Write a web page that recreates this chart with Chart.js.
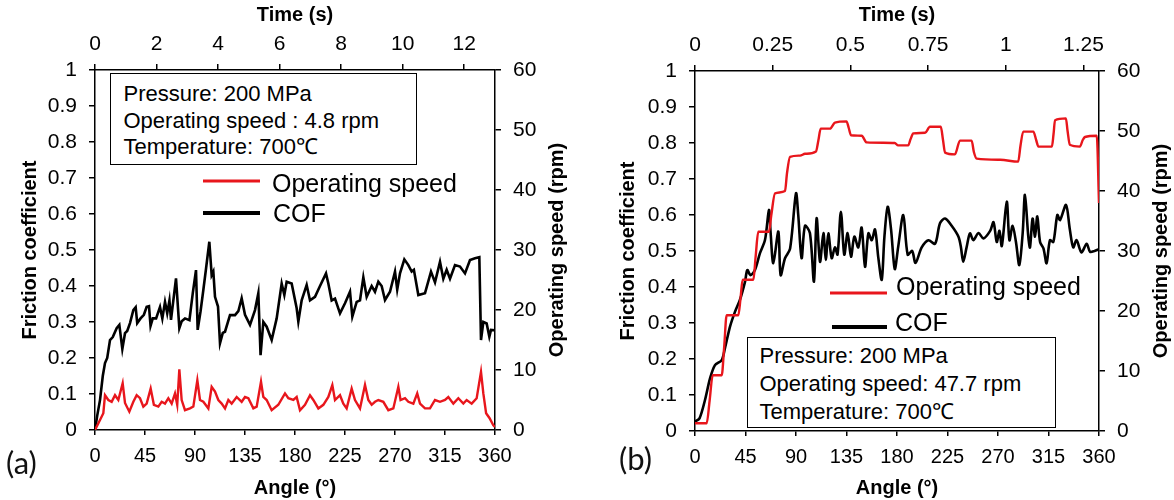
<!DOCTYPE html>
<html><head><meta charset="utf-8">
<script src="https://cdn.jsdelivr.net/npm/chart.js@4.4.0/dist/chart.umd.min.js"></script>
<style>
html,body{margin:0;padding:0;background:#fff;}
#wrap{position:relative;width:1174px;height:500px;overflow:hidden;font-family:"Liberation Sans",Arial,sans-serif;}
canvas{position:absolute;top:0;}
#ca{left:0}
#cb{left:587px}
.box{position:absolute;border:1.5px solid #000;box-sizing:border-box;font-size:22px;color:#000;background:#fff;white-space:nowrap;}
.panel{position:absolute;font-family:Lato,"Open Sans",sans-serif;font-size:31px;line-height:36px;color:#111;}
</style></head>
<body><div id="wrap">
<canvas id="ca" width="587" height="500"></canvas>
<canvas id="cb" width="587" height="500"></canvas>
<div class="box" style="left:110px;top:73px;width:307px;height:92px;padding:7px 0 0 12.5px;line-height:26.7px;">Pressure: 200 MPa<br>Operating speed : 4.8 rpm<br>Temperature: 700℃</div>
<div class="box" style="left:747px;top:337px;width:309px;height:91px;padding:4px 0 0 11.5px;line-height:28px;">Pressure: 200 MPa<br>Operating speed: 47.7 rpm<br>Temperature: 700℃</div>
<div class="panel" style="left:6px;top:444px;">(a)</div>
<div class="panel" style="left:619px;top:440px;">(b)</div>
</div>
<script>
// ---------- DATA ----------
const seriesNames = ["Operating speed", "COF"];
const angleTicks = [0, 45, 90, 135, 180, 225, 270, 315, 360];

// Panel (a): 4.8 rpm
const aTimeMax = 13;
const aAngleCOF = [0,2,4.5,7,9,11,13.5,16,19.5,21.9,24.6,27,29,31.5,34.5,36.6,38,41,44,46.5,48.6,50,52,55,58.5,60.6,63,65,67,68.4,72.9,75.9,78,81,85,88,90.9,92.4,95,97.5,100,102.9,105,106.5,108,110.7,112.5,115,117,121.5,126,129,132,135,139.5,144,147,149,151.5,154.5,159,163.5,168,170.4,172.5,177,181.5,183,186,190.5,193.5,198,202.5,207.9,210,213,216,220.5,225,229.5,231.6,235.5,238.5,241.5,244.5,249,252,255,258,261,265.5,270,272,274.5,278.4,282,285,287,291,297,302.4,306,310.5,313.5,316.5,319.5,324,328.5,333,337.5,342,345.9,347.4,349.5,352.5,354.9,356.4,360];
const aCOF = [0,0.04,0.083,0.15,0.186,0.2,0.25,0.258,0.283,0.292,0.225,0.269,0.275,0.297,0.333,0.341,0.297,0.31,0.32,0.342,0.344,0.289,0.31,0.31,0.342,0.31,0.356,0.324,0.36,0.306,0.421,0.283,0.302,0.31,0.305,0.38,0.444,0.278,0.33,0.389,0.45,0.523,0.43,0.44,0.37,0.343,0.241,0.27,0.273,0.319,0.319,0.33,0.366,0.32,0.292,0.333,0.38,0.208,0.30,0.287,0.25,0.31,0.407,0.375,0.412,0.407,0.338,0.301,0.36,0.403,0.36,0.37,0.40,0.435,0.407,0.36,0.365,0.324,0.352,0.384,0.315,0.356,0.36,0.424,0.37,0.40,0.384,0.412,0.40,0.361,0.384,0.44,0.39,0.435,0.474,0.458,0.44,0.445,0.375,0.38,0.44,0.41,0.467,0.42,0.445,0.42,0.458,0.454,0.435,0.472,0.477,0.48,0.25,0.30,0.296,0.259,0.278,0.277];
const aAngleSpeed = [0,4.5,7.5,9,12,15,18,21,24.9,27,30.9,34.5,37.5,40.5,43.5,46.5,50.1,53,57,60,63,66,69,72,74,75.9,78,81,85.5,88.5,92.1,94.5,97.5,102,105,108,111,114,117,120,123,127.5,132,135,138,142.5,145.5,149.4,151.5,154.5,159,165,171,174,178.5,181.5,184.5,189,193.5,196.5,201,205.5,210,213.6,216,220.5,223.5,226.5,231,234,238.5,243,246,249,252,255,259.5,264,268.5,273,275,279,282,286.5,290,292.5,297,301.5,306,310.5,315,318,322.5,327,331.5,334.5,339,343.5,347.4,349.5,352,355,358.5,360];
const aSpeed = [0,1.67,2.8,5.8,5,4.7,5.8,5,7.8,4.5,3.05,4.7,5.8,5.3,3.9,4.4,6.9,4.2,3.9,4.7,4.4,5.3,4.4,6.1,4.2,10.1,5,3.3,3.6,3.9,8.3,5,4.7,3.6,7.2,6.4,5,4.4,3.6,5,4.4,5.5,4.7,5.5,5.3,3.6,3.9,8.05,5.5,5,3.3,4.2,6.1,5.3,5,5.5,3.3,4.2,5.8,5,3.6,4.2,5.5,7.5,5,5.8,4.4,3.6,6.9,5,3.6,7.5,5,4.2,4.7,5,4.7,3.3,3.6,7.2,5,5.3,4.7,4.4,6.1,4.4,3.6,3.6,5,4.7,5,5.5,4.4,5.3,4.4,5,4.4,5.3,9.7,6.1,2.8,2,0.8,0.5];

// Panel (b): 47.7 rpm
const bTimeMax = 1.3;
const bAngleCOF = [0,4,8.9,13.4,17.8,23.8,26.7,31.2,35.6,40,44.6,46.6,49.5,53.4,57.9,62.4,65.9,67.4,69.8,74.3,76.3,80.2,84.7,90,92,95,98,102.4,106,108.4,111.4,114.4,116.5,118.8,121.8,124.7,127,130,133,136,139,142,145.5,148.5,151.5,154.5,157.5,160.4,163.4,166.4,168.8,171.7,174.7,178,181,185.6,189.5,193.5,196.5,202,208,213.9,218.3,222.8,228.7,234.7,237,239,242,245,248,252.6,257,263,266,268.9,271.3,273.4,277.8,280.2,283,286,289,292,294,297,298.5,300.8,303,305,307.5,310.5,313.3,316.3,319.3,322.9,325.3,330.6,334,337,340,344.4,349,352,356,360];
const bCOF = [0.026,0.035,0.086,0.146,0.183,0.197,0.23,0.29,0.331,0.364,0.415,0.447,0.433,0.447,0.494,0.531,0.614,0.55,0.466,0.554,0.433,0.48,0.506,0.66,0.6,0.48,0.57,0.55,0.415,0.591,0.47,0.55,0.475,0.549,0.48,0.51,0.49,0.609,0.49,0.55,0.484,0.54,0.51,0.565,0.456,0.549,0.53,0.56,0.48,0.42,0.54,0.623,0.56,0.45,0.51,0.6,0.49,0.5,0.467,0.51,0.53,0.52,0.577,0.59,0.57,0.54,0.51,0.47,0.51,0.549,0.53,0.55,0.535,0.556,0.58,0.525,0.556,0.514,0.637,0.53,0.57,0.525,0.461,0.55,0.656,0.54,0.51,0.59,0.54,0.596,0.525,0.507,0.466,0.53,0.525,0.6,0.586,0.628,0.56,0.51,0.53,0.496,0.52,0.498,0.5,0.505];
const bAngleSpeed = [0,10.4,13,15.8,23.8,26,28.2,38.6,40.5,42.5,52,54,56.4,65.9,68,71.3,80.2,82,84.7,93.6,98,107.8,110,112,120.3,124.7,135,137,139,148.5,153,178,181,190,192,194.5,205,209.4,219,221,222.8,231.6,236.1,246.5,248.5,251,272,288,290,292.5,301.5,304,306,318,319.5,320.8,330.5,332,334,343,345.5,347.5,358,360];
const bSpeed = [1.3,1.3,5,9.3,9.3,14,19.3,19.3,22,25.2,25.2,29,33.2,33.2,36,39.6,40,43,45.7,45.9,46.2,46.6,48.5,50.4,50.4,51.4,51.6,50.5,49.3,49.2,48.1,48,47.6,47.6,48.6,49.6,49.7,50.7,50.7,48.5,46.4,46.1,48.4,48.4,46.5,45.4,45.2,44.9,47.5,49.9,49.9,48.5,47.4,47.4,49.5,51.8,52.1,50,47.7,47.4,48.5,49,49.2,38];

// ---------- CHARTS ----------
const FONT = '"Liberation Sans", Arial, sans-serif';
Chart.defaults.font.family = FONT;
Chart.defaults.color = '#000';
const RED = '#e8161c';
const fmt = v => String(+(+v).toFixed(3));
const pts = (xs, ys) => xs.map((x, i) => ({x, y: ys[i]}));

const legendPlugin = {
  id: 'insideLegend',
  afterDraw(chart, args, o) {
    const ctx = chart.ctx;
    ctx.save();
    ctx.font = o.font;
    ctx.textBaseline = 'middle';
    ctx.textAlign = 'left';
    o.items.forEach(it => {
      const ds = chart.data.datasets[it.ds];
      ctx.strokeStyle = ds.borderColor;
      ctx.lineWidth = it.lw;
      ctx.beginPath(); ctx.moveTo(it.x0, it.ly); ctx.lineTo(it.x1, it.ly); ctx.stroke();
      ctx.fillStyle = '#000';
      ctx.fillText(ds.label, it.tx, it.ty);
    });
    // right axis title, reading bottom-to-top
    const ca = chart.chartArea;
    ctx.font = 'bold 20px ' + FONT;
    ctx.textAlign = 'center';
    ctx.translate(o.rightTitleX, (ca.top + ca.bottom) / 2);
    ctx.rotate(-Math.PI / 2);
    ctx.fillText(o.rightTitle, 0, 0);
    ctx.restore();
  }
};

function axisCommon(extra) {
  return Object.assign({
    type: 'linear',
    grid: {drawOnChartArea: false, drawTicks: true, tickLength: 6, color: '#000', lineWidth: 1.5},
    border: {display: true, color: '#000', width: 1.5},
  }, extra);
}

function makeChart(id, p) {
  return new Chart(document.getElementById(id), {
    type: 'line',
    data: {datasets: [
      {label: seriesNames[0], data: pts(p.angS, p.speed), yAxisID: 'y2', xAxisID: 'x',
       borderColor: RED, borderWidth: 2.4, pointRadius: 0, tension: 0,
       cubicInterpolationMode: p.speedMode, fill: false},
      {label: seriesNames[1], data: pts(p.angC, p.cof), yAxisID: 'y', xAxisID: 'x',
       borderColor: '#000', borderWidth: 2.6, pointRadius: 0, tension: p.tension, fill: false},
    ]},
    options: {
      responsive: false, animation: false, devicePixelRatio: 1,
      layout: {padding: 0},
      plugins: {legend: {display: false}, tooltip: {enabled: false},
        insideLegend: p.legend},
      scales: {
        x: axisCommon({position: 'bottom', min: 0, max: 360,
          grid: {drawOnChartArea: false, tickLength: 5, color: '#000', lineWidth: 1.5},
          afterBuildTicks: s => { s.ticks = angleTicks.map(v => ({value: v})); },
          ticks: {font: {size: 20}, padding: 9, maxRotation: 0, autoSkip: false},
          title: {display: true, text: 'Angle (°)', font: {size: 20, weight: 'bold'}, padding: {top: 0, bottom: 0}},
          afterFit: s => { s.height = p.bottomH; }}),
        x2: axisCommon({position: 'top', min: 0, max: p.timeMax,
          ticks: {stepSize: p.timeStep, includeBounds: false, font: {size: 21}, padding: 7, maxRotation: 0, autoSkip: false, callback: fmt},
          title: {display: true, text: 'Time (s)', font: {size: 20, weight: 'bold'}, padding: {top: 3, bottom: 0}},
          afterFit: s => { s.height = p.topH; }}),
        y: axisCommon({position: 'left', min: 0, max: 1,
          ticks: {stepSize: 0.1, font: {size: 21}, padding: 12, callback: fmt},
          title: {display: true, text: 'Friction coefficient', font: {size: 20, weight: 'bold'}, padding: {top: p.leftTitlePad, bottom: 0}},
          afterFit: s => { s.width = p.leftW; }}),
        y2: axisCommon({position: 'right', min: 0, max: 60,
          ticks: {stepSize: 10, font: {size: 21}, padding: 12, callback: fmt},
          afterFit: s => { s.width = p.rightW; }}),
      }
    },
    plugins: [legendPlugin]
  });
}

makeChart('ca', {
  angC: aAngleCOF, cof: aCOF, angS: aAngleSpeed, speed: aSpeed, tension: 0, speedMode: 'default',
  timeMax: aTimeMax, timeStep: 2,
  leftW: 95, rightW: 92, topH: 70, bottomH: 70, leftTitlePad: 18,
  legend: {font: '25px ' + FONT, rightTitle: 'Operating speed (rpm)', rightTitleX: 557,
    items: [{ds: 0, x0: 203, x1: 260, ly: 181, lw: 3, tx: 272, ty: 185},
            {ds: 1, x0: 203, x1: 260, ly: 213, lw: 4, tx: 273, ty: 215.5}]}
});
makeChart('cb', {
  angC: bAngleCOF, cof: bCOF, angS: bAngleSpeed, speed: bSpeed, tension: 0.3, speedMode: 'monotone',
  timeMax: bTimeMax, timeStep: 0.25,
  leftW: 108, rightW: 75, topH: 71, bottomH: 69, leftTitlePad: 29,
  legend: {font: '25px ' + FONT, rightTitle: 'Operating speed (rpm)', rightTitleX: 574,
    items: [{ds: 0, x0: 243, x1: 300, ly: 293, lw: 3, tx: 309, ty: 288.5},
            {ds: 1, x0: 245, x1: 300, ly: 327, lw: 4, tx: 308, ty: 324}]}
});
</script>
</body></html>
